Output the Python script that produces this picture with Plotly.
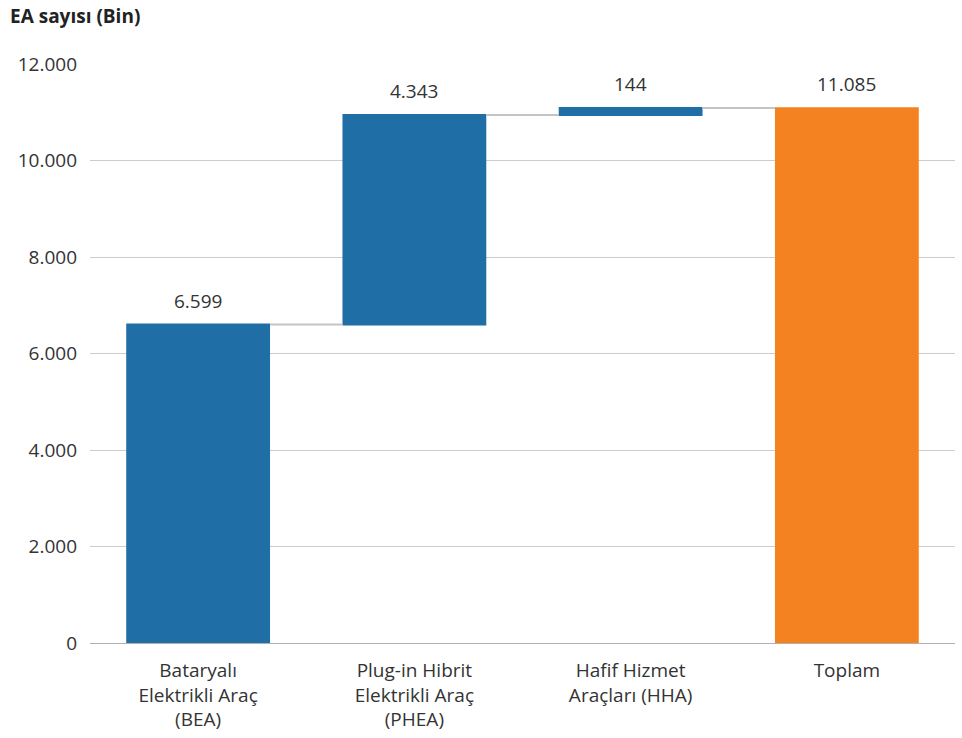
import plotly.graph_objects as go

# Data (thousands of EVs)
categories = ["Bataryalı<br>Elektrikli Araç<br>(BEA)",
              "Plug-in Hibrit<br>Elektrikli Araç<br>(PHEA)",
              "Hafif Hizmet<br>Araçları (HHA)",
              "Toplam"]
values = [6599, 4343, 144, 11085]
measures = ["relative", "relative", "relative", "absolute"]
y_ticks = [0, 2000, 4000, 6000, 8000, 10000, 12000]

BLUE = "#1F6EA6"
ORANGE = "#F58220"
FONT = "Open Sans"
TEXT = "#333333"


def fmt(v):
    return f"{v:,}".replace(",", ".")


fig = go.Figure()
fig.add_trace(go.Waterfall(
    x=categories,
    y=values,
    measure=measures,
    increasing=dict(marker=dict(color=BLUE)),
    decreasing=dict(marker=dict(color=BLUE)),
    totals=dict(marker=dict(color=ORANGE)),
    connector=dict(mode="between", line=dict(color="#c4c4c4", width=2)),
    textposition="none",
    hoverinfo="skip",
))

# value labels above each bar top
tops = []
running = 0
for v, m in zip(values, measures):
    running = v if m == "absolute" else running + v
    tops.append(running)

for cat, top, v in zip(categories, tops, values):
    fig.add_annotation(x=cat, y=top, text=fmt(v), showarrow=False,
                       yanchor="bottom", yshift=9,
                       font=dict(family=FONT, size=19, color=TEXT))

fig.add_annotation(x=0, xref="paper", xanchor="left", xshift=-82,
                   y=1, yref="paper", yanchor="bottom", yshift=33,
                   text="<b>EA sayısı (Bin)</b>", showarrow=False,
                   font=dict(family=FONT, size=19, color="#222222"))

fig.update_layout(
    width=962, height=738,
    margin=dict(l=90, r=7, t=64, b=95),
    paper_bgcolor="white", plot_bgcolor="white",
    showlegend=False,
    waterfallgap=0.335,
    font=dict(family=FONT, size=19, color=TEXT),
    xaxis=dict(showgrid=False, showline=False, ticks="",
               ticklabelstandoff=14,
               tickfont=dict(family=FONT, size=19, color=TEXT)),
    yaxis=dict(range=[0, 12000], tickvals=y_ticks,
               ticktext=[fmt(t) for t in y_ticks],
               showgrid=True, gridcolor="#cccccc", gridwidth=1,
               zeroline=True, zerolinecolor="#b0b0b0", zerolinewidth=1,
               showline=False, ticks="", ticklabelstandoff=12,
               tickfont=dict(family=FONT, size=19, color=TEXT)),
)

fig.write_html("out.html")
